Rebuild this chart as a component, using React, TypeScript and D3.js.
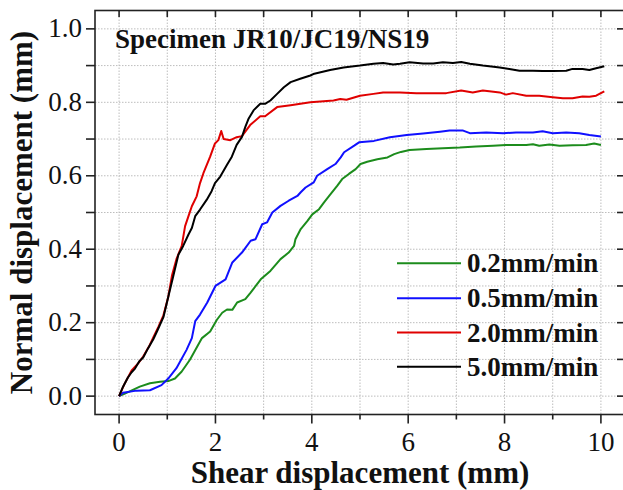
import React from "react";
import * as d3 from "d3";

const W = 623;
const H = 490;

const xTicks = [0, 2, 4, 6, 8, 10];
const xMinor = [1, 3, 5, 7, 9];
const yTicks = [0.0, 0.2, 0.4, 0.6, 0.8, 1.0];
const yMinor = [0.1, 0.3, 0.5, 0.7, 0.9];

const legendLabels = ["0.2mm/min", "0.5mm/min", "2.0mm/min", "5.0mm/min"];
const seriesColors = ["#1c8c1c", "#1010ff", "#e00000", "#000000"];

const greenX = [0,0.12,0.43,0.64,0.85,1.02,1.16,1.3,1.47,1.72,1.89,2.03,2.14,2.24,2.35,2.45,2.62,2.73,2.94,3.14,3.35,3.52,3.63,3.66,3.77,3.91,4.01,4.15,4.25,4.36,4.53,4.63,4.77,4.91,5.01,5.15,5.36,5.57,5.71,5.85,6.03,6.38,6.72,7.07,7.41,7.76,8.03,8.45,8.59,8.72,8.93,9.14,9.41,9.69,9.86,10.0];
const greenY = [0,0.007,0.026,0.035,0.039,0.041,0.048,0.067,0.099,0.158,0.176,0.208,0.227,0.236,0.235,0.255,0.264,0.282,0.318,0.341,0.373,0.391,0.409,0.427,0.455,0.477,0.495,0.509,0.527,0.545,0.573,0.591,0.605,0.618,0.632,0.638,0.645,0.65,0.659,0.665,0.67,0.673,0.675,0.677,0.68,0.682,0.684,0.684,0.686,0.682,0.685,0.682,0.683,0.684,0.688,0.684];

const blueX = [0,0.08,0.36,0.64,0.88,1.02,1.19,1.4,1.51,1.58,1.68,1.83,2.0,2.21,2.35,2.55,2.73,2.83,2.97,3.07,3.18,3.35,3.52,3.7,3.77,3.87,4.04,4.11,4.32,4.49,4.6,4.67,4.88,4.98,5.29,5.62,5.97,6.31,6.66,6.86,7.14,7.28,7.62,7.97,8.24,8.59,8.79,9.0,9.28,9.55,9.76,10.0];
const blueY = [0,0.009,0.015,0.016,0.03,0.048,0.076,0.126,0.158,0.204,0.222,0.255,0.3,0.318,0.364,0.391,0.423,0.427,0.468,0.473,0.5,0.518,0.532,0.545,0.555,0.568,0.582,0.6,0.618,0.632,0.65,0.664,0.682,0.691,0.695,0.705,0.711,0.715,0.72,0.723,0.723,0.716,0.718,0.716,0.718,0.718,0.721,0.716,0.718,0.716,0.711,0.707];

const redX = [0,0.1,0.26,0.4,0.5,0.62,0.71,0.82,0.92,1.02,1.1,1.19,1.3,1.37,1.44,1.51,1.61,1.68,1.75,1.89,1.99,2.06,2.12,2.17,2.31,2.44,2.55,2.72,2.93,3.03,3.28,3.56,3.97,4.45,4.59,4.72,5.0,5.28,5.48,5.83,6.17,6.52,6.79,7.1,7.34,7.55,7.9,8.03,8.17,8.45,8.72,9.0,9.21,9.41,9.62,9.76,9.9,10.07];
const redY = [0,0.03,0.07,0.09,0.108,0.135,0.16,0.19,0.22,0.27,0.33,0.373,0.409,0.463,0.49,0.517,0.544,0.58,0.607,0.652,0.688,0.697,0.722,0.7,0.697,0.705,0.708,0.738,0.762,0.762,0.787,0.792,0.8,0.805,0.809,0.807,0.818,0.823,0.827,0.827,0.825,0.825,0.825,0.832,0.827,0.832,0.827,0.821,0.825,0.818,0.818,0.814,0.811,0.811,0.816,0.815,0.818,0.83];

const blackX = [0,0.08,0.18,0.26,0.33,0.42,0.5,0.6,0.71,0.8,0.92,1.02,1.13,1.23,1.33,1.44,1.51,1.58,1.68,1.82,1.92,1.99,2.1,2.24,2.34,2.44,2.55,2.62,2.69,2.79,2.93,3.03,3.14,3.28,3.42,3.56,3.76,3.97,4.03,4.38,4.66,5.0,5.28,5.48,5.69,5.83,6.03,6.31,6.52,6.72,6.93,7.1,7.28,7.55,7.9,8.1,8.31,8.59,8.79,9.0,9.28,9.41,9.62,9.76,9.9,10.07];
const blackY = [0,0.025,0.05,0.065,0.075,0.095,0.105,0.13,0.155,0.18,0.215,0.27,0.33,0.385,0.409,0.44,0.458,0.49,0.508,0.535,0.558,0.58,0.598,0.63,0.652,0.684,0.706,0.733,0.756,0.778,0.796,0.796,0.805,0.823,0.841,0.855,0.864,0.873,0.877,0.888,0.895,0.9,0.905,0.907,0.903,0.905,0.909,0.906,0.906,0.909,0.907,0.91,0.905,0.9,0.895,0.891,0.886,0.886,0.885,0.885,0.886,0.891,0.891,0.888,0.893,0.898];

const seriesXs = [greenX, blueX, redX, blackX];
const seriesYs = [greenY, blueY, redY, blackY];

const FONT = "Liberation Serif, Tinos, Times New Roman, DejaVu Serif, serif";

export default function App() {
  const left = 95, right = 625, top = 10.5, bottom = 414.5;
  const x = d3.scaleLinear().domain([-0.5, 10.5]).range([left, right]);
  const y = d3.scaleLinear().domain([-0.05, 1.05]).range([bottom, top]);
  const line = d3.line<[number, number]>().x(d => x(d[0])).y(d => y(d[1]));
  const gridX = d3.range(0, 11, 1);
  const gridY = d3.range(0, 11).map(i => i / 10);

  const legendY = [263.3, 298.3, 332.5, 366.7];
  const txt = { fontFamily: FONT } as React.CSSProperties;

  return (
    <svg width={W} height={H} style={{ position: "absolute", left: 0, top: 0, background: "#fff" }}>
      <rect x={0} y={0} width={W} height={H} fill="#fff" />
      {gridX.map(v => (
        <line key={"gx" + v} x1={x(v)} x2={x(v)} y1={top} y2={bottom} stroke="#bdbdbd" strokeWidth={1} strokeDasharray="1.5,1.5" />
      ))}
      {gridY.map(v => (
        <line key={"gy" + v} x1={left} x2={right} y1={y(v)} y2={y(v)} stroke="#bdbdbd" strokeWidth={1} strokeDasharray="1.5,1.5" />
      ))}
      {seriesXs.map((xs, i) => (
        <path key={"s" + i} d={line(xs.map((v, j) => [v, seriesYs[i][j]]) as [number, number][]) || ""} fill="none" stroke={seriesColors[i]} strokeWidth={2} strokeLinejoin="round" />
      ))}
      <rect x={left} y={top} width={right - left} height={bottom - top} fill="none" stroke="#222" strokeWidth={1.6} />
      {xTicks.map(v => (
        <line key={"bt" + v} x1={x(v)} x2={x(v)} y1={bottom} y2={bottom + 9} stroke="#222" strokeWidth={1.6} />
      ))}
      {xMinor.map(v => (
        <line key={"bm" + v} x1={x(v)} x2={x(v)} y1={bottom} y2={bottom + 5} stroke="#222" strokeWidth={1.6} />
      ))}
      {[...xTicks, ...xMinor].map(v => (
        <line key={"tt" + v} x1={x(v)} x2={x(v)} y1={top} y2={top + 6.5} stroke="#222" strokeWidth={1.6} />
      ))}
      {[...yTicks, ...yMinor].map(v => (
        <line key={"lt" + v} x1={left - 9} x2={left} y1={y(v)} y2={y(v)} stroke="#222" strokeWidth={1.6} />
      ))}
      {[...yTicks, ...yMinor].map(v => (
        <line key={"rt" + v} x1={right - 8} x2={right} y1={y(v)} y2={y(v)} stroke="#222" strokeWidth={1.6} />
      ))}
      {xTicks.map(v => (
        <text key={"xl" + v} x={x(v)} y={451} textAnchor="middle" style={txt} fontSize={27} fill="#111">{v}</text>
      ))}
      {yTicks.map(v => (
        <text key={"yl" + v} x={82} y={y(v) + 8.5} textAnchor="end" style={txt} fontSize={27} fill="#111">{v.toFixed(1)}</text>
      ))}
      <text x={(left + right) / 2} y={483} textAnchor="middle" style={txt} fontSize={31} fontWeight="bold" fill="#111">Shear displacement (mm)</text>
      <text transform={`translate(32,${(top + bottom) / 2}) rotate(-90)`} textAnchor="middle" style={txt} fontSize={31} fontWeight="bold" fill="#111">Normal displacement (mm)</text>
      <text x={115} y={48} style={txt} fontSize={27} fontWeight="bold" fill="#111">Specimen JR10/JC19/NS19</text>
      {legendLabels.map((lab, i) => (
        <g key={"lg" + i}>
          <line x1={397} x2={461} y1={legendY[i]} y2={legendY[i]} stroke={seriesColors[i]} strokeWidth={2} />
          <text x={467} y={legendY[i] + 9} style={txt} fontSize={27} fontWeight="bold" fill="#111">{lab}</text>
        </g>
      ))}
    </svg>
  );
}
